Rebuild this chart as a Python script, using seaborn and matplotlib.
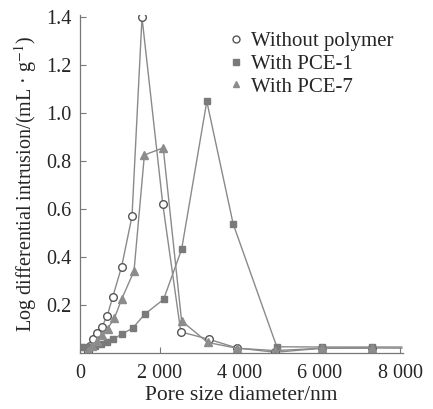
import numpy as np
import pandas as pd
import matplotlib
matplotlib.use("Agg")
import matplotlib.pyplot as plt
from matplotlib.lines import Line2D
import seaborn as sns

# Data
x_none = [200, 260, 330, 420, 550, 680, 820, 1040, 1300, 1550, 2070, 2520, 3230, 3920, 4880, 6060, 7290, 8050]
y_none = [0.005, 0.03, 0.06, 0.083, 0.11, 0.155, 0.235, 0.36, 0.57, 1.40, 0.62, 0.088, 0.057, 0.021, 0.003, 0.02, 0.021, 0.02]

x_pce1 = [0, 120, 250, 380, 520, 670, 830, 1060, 1320, 1620, 2090, 2540, 3170, 3830, 4920, 6060, 7290, 8050]
y_pce1 = [0.025, 0.025, 0.027, 0.03, 0.037, 0.045, 0.058, 0.08, 0.104, 0.162, 0.224, 0.432, 1.05, 0.538, 0.026, 0.025, 0.025, 0.025]

x_pce7 = [200, 300, 420, 560, 690, 860, 1040, 1350, 1610, 2080, 2540, 3190, 3920, 4880, 6060, 7290]
y_pce7 = [0.01, 0.03, 0.05, 0.075, 0.102, 0.145, 0.224, 0.342, 0.826, 0.856, 0.134, 0.044, 0.02, 0.01, 0.02, 0.02]

labels = ["Without polymer", "With PCE-1", "With PCE-7"]

sns.set_style("ticks")
plt.rcParams["font.family"] = ["Liberation Serif", "DejaVu Serif"]
plt.rcParams["mathtext.fontset"] = "stix"

fig = plt.figure(figsize=(4.33, 4.09), dpi=100)
ax = fig.add_axes([80/433, 1-353/409, (403-80)/433, (353-15)/409])

line_color = "#8a8a8a"
specs = [
    (x_none, y_none, labels[0], "o", "white", "#555555", 5.5),
    (x_pce1, y_pce1, labels[1], "s", "#7a7a7a", "#7a7a7a", 5.0),
    (x_pce7, y_pce7, labels[2], "^", "#8c8c8c", "#8c8c8c", 5.5),
]
handles = []
for xs, ys, lab, m, fc, ec, ms in specs:
    df = pd.DataFrame({"x": xs, "y": ys})
    n = len(xs)
    mk = list(range(n - 1)) if xs[-1] > 8000 else list(range(n))
    sns.lineplot(data=df, x="x", y="y", ax=ax, color=line_color, lw=1.0,
                 marker=m, markersize=ms, markerfacecolor=fc, markeredgecolor=ec,
                 markeredgewidth=1.0, markevery=mk, sort=False, estimator=None)
    handles.append(Line2D([], [], ls="none", marker=m, markersize=ms - 0.5,
                          markerfacecolor=fc, markeredgecolor=ec, markeredgewidth=1.0, label=lab))

ax.set_xlim(0, 8075)
ax.set_ylim(0, 1.41)
ax.set_xticks([0, 2000, 4000, 6000, 8000])
ax.set_xticklabels(["0", "2 000", "4 000", "6 000", "8 000"])
ax.set_yticks([0.2, 0.4, 0.6, 0.8, 1.0, 1.2, 1.4])
ax.set_yticklabels(["0.2", "0.4", "0.6", "0.8", "1.0", "1.2", "1.4"])
ax.tick_params(direction="in", length=4, width=0.8, color="#777777", labelsize=14.5, pad=6)
ax.tick_params(axis="x", pad=8)
for s in ["top", "right"]:
    ax.spines[s].set_visible(False)
for s in ["left", "bottom"]:
    ax.spines[s].set_color("#777777")
    ax.spines[s].set_linewidth(0.9)

ax.set_xlabel("Pore size diameter/nm", fontsize=15.5, labelpad=2)
ax.set_ylabel(r"Log differential intrusion/(mL · g$^{-1}$)", fontsize=14.5, labelpad=5)

ax.legend(handles=handles, loc="upper left", bbox_to_anchor=(0.425, 0.975), frameon=False,
          fontsize=15, handletextpad=0.2, labelspacing=0.15, handlelength=1.0, borderaxespad=0)

fig.savefig("out.png", dpi=100)
